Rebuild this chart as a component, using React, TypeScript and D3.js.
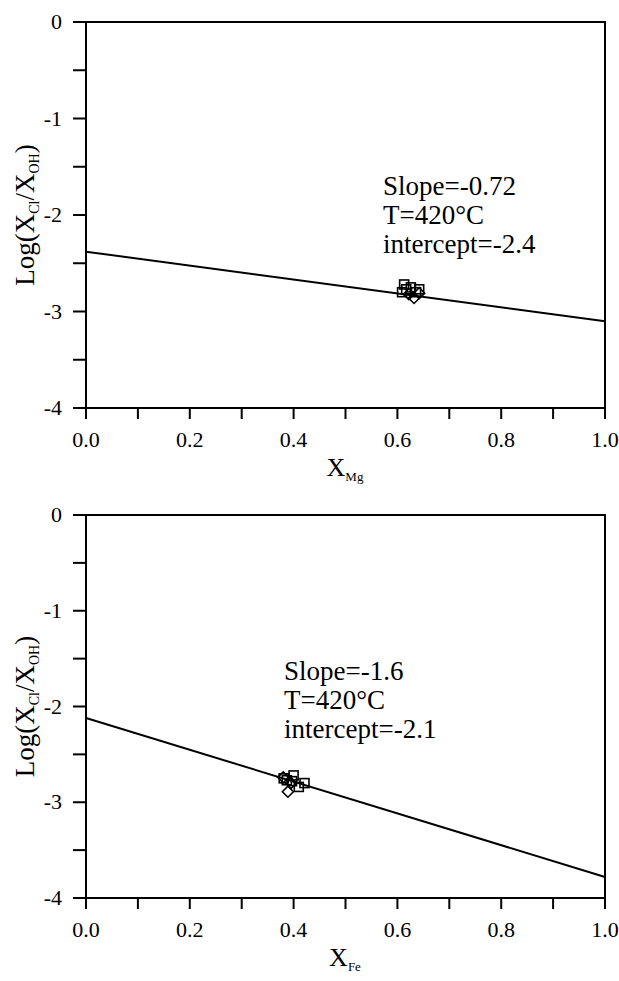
import React from "react";
import * as d3 from "d3";

// fitted lines: [y at x=0, y at x=1]
const mgLine = [-2.38, -3.1];
const feLine = [-2.12, -3.78];

// Mg panel points
const mgSquares = [
  [0.613, -2.72], [0.617, -2.77], [0.626, -2.75], [0.642, -2.77],
  [0.636, -2.80], [0.609, -2.80],
];
const mgDiamonds = [[0.632, -2.86], [0.642, -2.81], [0.622, -2.82]];

// Fe panel points
const feSquares = [
  [0.381, -2.75], [0.40, -2.72], [0.41, -2.84], [0.421, -2.80],
  [0.397, -2.78], [0.387, -2.77],
];
const feDiamonds = [[0.389, -2.89], [0.38, -2.74], [0.395, -2.80]];

const mgNotes = ["Slope=-0.72", "T=420°C", "intercept=-2.4"];
const feNotes = ["Slope=-1.6", "T=420°C", "intercept=-2.1"];

const xTicks = d3.range(0, 1.0001, 0.1);
const yTicks = d3.range(-4, 0.0001, 0.5);

const FONT = "'Liberation Serif', 'Times New Roman', serif";

function Panel({ top, bottom, line, squares, diamonds, notes, noteX, noteY, sub }: any) {
  const x = d3.scaleLinear().domain([0, 1]).range([86, 605]);
  const y = d3.scaleLinear().domain([-4, 0]).range([bottom, top]);
  const lineGen = d3.line<number[]>().x(d => x(d[0])).y(d => y(d[1]));
  const lineData = [[0, line[0]], [1, line[1]]];
  const mid = (top + bottom) / 2;
  const s = 4.5;
  return (
    <g>
      <rect x={x(0)} y={y(0)} width={x(1) - x(0)} height={y(-4) - y(0)} fill="none" stroke="#000" strokeWidth={2} />
      {xTicks.map((t, i) => (
        <g key={"x" + i}>
          <line x1={x(t)} x2={x(t)} y1={y(-4)} y2={y(-4) + 11} stroke="#000" strokeWidth={2} />
          {i % 2 === 0 && (
            <text x={x(t)} y={y(-4) + 39} textAnchor="middle" fontSize={22} fontFamily={FONT}>
              {t.toFixed(1)}
            </text>
          )}
        </g>
      ))}
      {yTicks.map((t, i) => (
        <g key={"y" + i}>
          <line x1={x(0) - 13} x2={x(0)} y1={y(t)} y2={y(t)} stroke="#000" strokeWidth={2} />
          {i % 2 === 0 && (
            <text x={62} y={y(t) + 7} textAnchor="end" fontSize={22} fontFamily={FONT}>
              {String(Math.round(t))}
            </text>
          )}
        </g>
      ))}
      <path d={lineGen(lineData) || ""} fill="none" stroke="#000" strokeWidth={2} />
      {squares.map((d: number[], i: number) => (
        <rect key={"s" + i} x={x(d[0]) - s} y={y(d[1]) - s} width={2 * s} height={2 * s} fill="none" stroke="#000" strokeWidth={1.6} />
      ))}
      {diamonds.map((d: number[], i: number) => (
        <path key={"d" + i} d={`M${x(d[0])},${y(d[1]) - 5.5}L${x(d[0]) + 5.5},${y(d[1])}L${x(d[0])},${y(d[1]) + 5.5}L${x(d[0]) - 5.5},${y(d[1])}Z`} fill="none" stroke="#000" strokeWidth={1.6} />
      ))}
      {notes.map((n: string, i: number) => (
        <text key={"n" + i} x={noteX} y={noteY + i * 29} fontSize={27} fontFamily={FONT}>{n}</text>
      ))}
      <text transform={`translate(34,${mid}) rotate(-90)`} textAnchor="middle" fontSize={27} fontFamily={FONT}>
        Log(X<tspan fontSize={14} dy={5}>Cl</tspan><tspan dy={-5}>/X</tspan><tspan fontSize={14} dy={5}>OH</tspan><tspan dy={-5}>)</tspan>
      </text>
      <text x={345} y={y(-4) + 68} textAnchor="middle" fontSize={26} fontFamily={FONT}>
        X<tspan fontSize={13} dy={5}>{sub}</tspan>
      </text>
    </g>
  );
}

export default function App() {
  return (
    <div style={{ position: "absolute", left: 0, top: 0, background: "#fff" }}>
      <svg width={619} height={981} style={{ display: "block" }}>
        <rect width={619} height={981} fill="#fff" />
        <Panel top={22} bottom={408} line={mgLine} squares={mgSquares} diamonds={mgDiamonds}
          notes={mgNotes} noteX={383} noteY={195} sub="Mg" />
        <Panel top={515} bottom={898} line={feLine} squares={feSquares} diamonds={feDiamonds}
          notes={feNotes} noteX={284} noteY={680} sub="Fe" />
      </svg>
    </div>
  );
}
